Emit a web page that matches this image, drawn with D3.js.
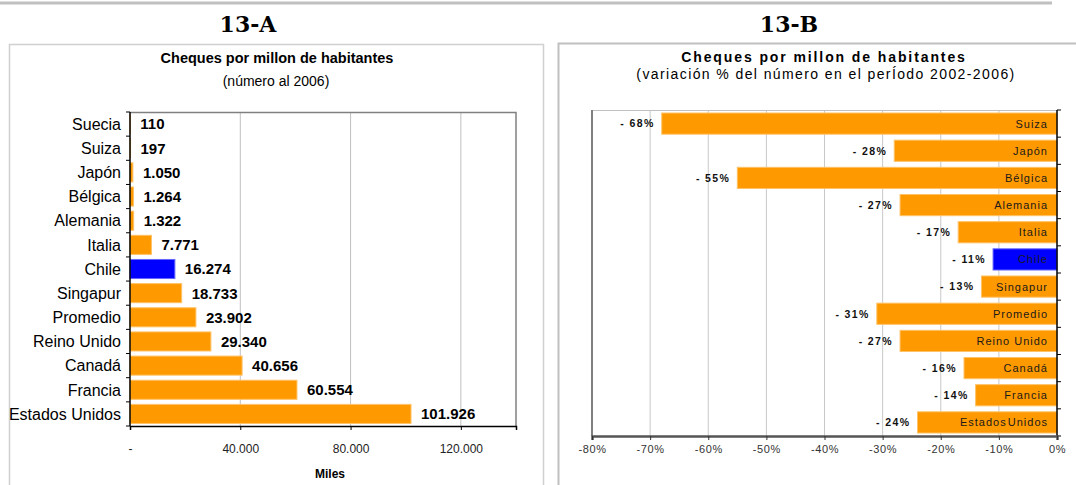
<!DOCTYPE html>
<html lang="es">
<head>
<meta charset="UTF-8">
<title>Cheques por millon de habitantes</title>
<script src="https://d3js.org/d3.v7.min.js"></script>
<style>
  body { margin: 0; background: #fff; }
  svg { display: block; font-family: "Liberation Sans", Arial, sans-serif; }
  .big { font-family: "DejaVu Serif", serif; font-weight: bold; font-size: 22px; }
</style>
</head>
<body>
<div id="chart"></div>
<script>
// panel A: numero de cheques al 2006
const catsA = ["Suecia", "Suiza", "Japón", "Bélgica", "Alemania", "Italia", "Chile",
  "Singapur", "Promedio", "Reino Unido", "Canadá", "Francia", "Estados Unidos"];
const valsA = [110, 197, 1050, 1264, 1322, 7771, 16274, 18733, 23902, 29340, 40656, 60554, 101926];
const ticksA = [0, 40000, 80000, 120000];

// panel B: variacion % 2002-2006
const catsB = ["Suiza", "Japón", "Bélgica", "Alemania", "Italia", "Chile", "Singapur",
  "Promedio", "Reino Unido", "Canadá", "Francia", "Estados Unidos"];
const valsB = [-68, -28, -55, -27, -17, -11, -13, -31, -27, -16, -14, -24];
const ticksB = [-80, -70, -60, -50, -40, -30, -20, -10, 0];

const orange = "#ff9900", blue = "#0000ff";
const es = d3.formatLocale({ decimal: ",", thousands: ".", grouping: [3], currency: ["$", ""] });
const fmt = es.format(",");

const W = 1076, H = 485;
const svg = d3.select("#chart").append("svg").attr("width", W).attr("height", H);

// top rule and headings
svg.append("line").attr("x1", 0).attr("x2", 1052).attr("y1", 3).attr("y2", 3)
  .attr("stroke", "#c0c0c0").attr("stroke-width", 3);
svg.append("text").attr("class", "big").attr("x", 248).attr("y", 32)
  .attr("text-anchor", "middle").text("13-A");
svg.append("text").attr("class", "big").attr("x", 789).attr("y", 32)
  .attr("text-anchor", "middle").text("13-B");

// panel frames
svg.append("path").attr("d", "M9.5,490V44.5H543.5V490")
  .attr("fill", "none").attr("stroke", "#d0d0d0").attr("stroke-width", 1.5);
svg.append("path").attr("d", "M558.5,490V43.5H1080")
  .attr("fill", "none").attr("stroke", "#c0c0c0").attr("stroke-width", 2);

// ---------------- 13-A ----------------
const gA = svg.append("g");
const xA = d3.scaleLinear().domain([0, 140000]).range([130, 516]);
const yA = d3.scaleBand().domain(catsA).range([112, 426]).paddingInner(0.21).paddingOuter(0.105);

gA.append("text").attr("x", 277).attr("y", 63).attr("text-anchor", "middle")
  .attr("font-size", 14.5).attr("font-weight", "bold").text("Cheques por millon de habitantes");
gA.append("text").attr("x", 276).attr("y", 86).attr("text-anchor", "middle")
  .attr("font-size", 14).text("(número al 2006)");

// grid
gA.selectAll(".grid").data(ticksA.slice(1)).enter().append("line")
  .attr("x1", d => xA(d)).attr("x2", d => xA(d))
  .attr("y1", 112).attr("y2", 426)
  .attr("stroke", "#c0c0c0").attr("stroke-width", 1);
// top and right border
gA.append("path").attr("d", `M${xA(0)},112.5H${xA(140000)}V426`)
  .attr("fill", "none").attr("stroke", "#808080").attr("stroke-width", 1.5);

gA.selectAll(".bar").data(catsA).enter().append("rect")
  .attr("x", xA(0))
  .attr("y", d => yA(d))
  .attr("width", (d, i) => xA(valsA[i]) - xA(0))
  .attr("height", yA.bandwidth())
  .attr("fill", d => d === "Chile" ? blue : orange)
  .attr("stroke", d => d === "Chile" ? "#6666ff" : "#ffc266")
  .attr("stroke-width", 1);

gA.selectAll(".val").data(catsA).enter().append("text")
  .attr("x", (d, i) => xA(valsA[i]) + 10)
  .attr("y", d => yA(d) + yA.bandwidth() / 2)
  .attr("dy", "0.36em")
  .attr("font-size", 15).attr("font-weight", "bold")
  .text((d, i) => fmt(valsA[i]));

// left axis with ticks at band boundaries
const stepA = yA.step();
gA.append("line").attr("x1", xA(0)).attr("x2", xA(0)).attr("y1", 112).attr("y2", 426)
  .attr("stroke", "#000").attr("stroke-width", 1.5);
gA.selectAll(".ytick").data(d3.range(catsA.length + 1)).enter().append("line")
  .attr("x1", xA(0) - 4).attr("x2", xA(0))
  .attr("y1", i => 112 + i * stepA).attr("y2", i => 112 + i * stepA)
  .attr("stroke", "#000");
gA.selectAll(".cat").data(catsA).enter().append("text")
  .attr("x", 121)
  .attr("y", d => yA(d) + yA.bandwidth() / 2)
  .attr("dy", "0.36em")
  .attr("text-anchor", "end").attr("font-size", 16)
  .text(d => d);

// bottom axis
const axA = gA.append("g").attr("transform", "translate(0,426)")
  .call(d3.axisBottom(xA).tickValues(ticksA).tickSize(4).tickPadding(14)
    .tickFormat(d => d === 0 ? "-" : fmt(d)));
axA.select(".domain").attr("stroke", "#000").attr("stroke-width", 1.5);
axA.selectAll("text").attr("font-size", 12).attr("font-family", "Liberation Sans, Arial, sans-serif")
  .attr("fill", "#222");
gA.append("text").attr("x", 330).attr("y", 478).attr("text-anchor", "middle")
  .attr("font-size", 12).attr("font-weight", "bold").text("Miles");

// ---------------- 13-B ----------------
const gB = svg.append("g");
const xB = d3.scaleLinear().domain([-80, 0]).range([592, 1057]);
const yB = d3.scaleBand().domain(catsB).range([110, 436]).paddingInner(0.22).paddingOuter(0.11);

gB.append("text").attr("x", 824).attr("y", 62).attr("text-anchor", "middle")
  .attr("font-size", 14).attr("font-weight", "bold").attr("letter-spacing", 1.9)
  .text("Cheques por millon de habitantes");
gB.append("text").attr("x", 826).attr("y", 79).attr("text-anchor", "middle")
  .attr("font-size", 14).attr("letter-spacing", 1.4)
  .text("(variación % del número en el perÍodo 2002-2006)");

gB.selectAll(".grid").data(ticksB.slice(1, -1)).enter().append("line")
  .attr("x1", d => xB(d)).attr("x2", d => xB(d))
  .attr("y1", 110).attr("y2", 436)
  .attr("stroke", "#c8c8c8").attr("stroke-width", 1);
gB.append("line").attr("x1", 592).attr("x2", 1057).attr("y1", 110.5).attr("y2", 110.5)
  .attr("stroke", "#c0c0c0").attr("stroke-width", 1);
gB.append("line").attr("x1", 592).attr("x2", 592).attr("y1", 110).attr("y2", 436)
  .attr("stroke", "#808080").attr("stroke-width", 2);

gB.selectAll(".bar").data(catsB).enter().append("rect")
  .attr("x", (d, i) => xB(valsB[i]))
  .attr("y", d => yB(d))
  .attr("width", (d, i) => xB(0) - xB(valsB[i]))
  .attr("height", yB.bandwidth())
  .attr("fill", d => d === "Chile" ? blue : orange)
  .attr("stroke", d => d === "Chile" ? "#6666ff" : "#ffc266")
  .attr("stroke-width", 1);

gB.selectAll(".cat").data(catsB).enter().append("text")
  .attr("x", 1048)
  .attr("y", d => yB(d) + yB.bandwidth() / 2)
  .attr("dy", "0.36em")
  .attr("text-anchor", "end").attr("font-size", 11).attr("letter-spacing", 1)
  .attr("word-spacing", d => d === "Estados Unidos" ? -3 : 0)
  .attr("fill", "#1a1a1a")
  .text(d => d);

gB.selectAll(".val").data(catsB).enter().append("text")
  .attr("x", (d, i) => xB(valsB[i]) - 7)
  .attr("y", d => yB(d) + yB.bandwidth() / 2)
  .attr("dy", "0.36em")
  .attr("text-anchor", "end").attr("font-size", 10.5).attr("font-weight", "bold")
  .attr("letter-spacing", 1.4).attr("fill", "#111")
  .text((d, i) => "- " + Math.abs(valsB[i]) + "%");

// right axis (value 0) with ticks at band boundaries
const stepB = yB.step();
gB.append("line").attr("x1", xB(0)).attr("x2", xB(0)).attr("y1", 110).attr("y2", 437)
  .attr("stroke", "#000").attr("stroke-width", 1.5);
gB.selectAll(".ytick").data(d3.range(catsB.length + 1)).enter().append("line")
  .attr("x1", xB(0)).attr("x2", xB(0) + 4)
  .attr("y1", i => 110 + i * stepB).attr("y2", i => 110 + i * stepB)
  .attr("stroke", "#000");

const axB = gB.append("g").attr("transform", "translate(0,436)")
  .call(d3.axisBottom(xB).tickValues(ticksB).tickSize(4).tickPadding(5)
    .tickFormat(d => d + "%"));
axB.select(".domain").attr("stroke", "#555").attr("stroke-width", 2.5);
axB.selectAll(".tick line").attr("stroke", "#333");
axB.selectAll("text").attr("font-size", 11).attr("letter-spacing", 0.6)
  .attr("font-family", "Liberation Sans, Arial, sans-serif").attr("fill", "#333");
</script>
</body>
</html>
